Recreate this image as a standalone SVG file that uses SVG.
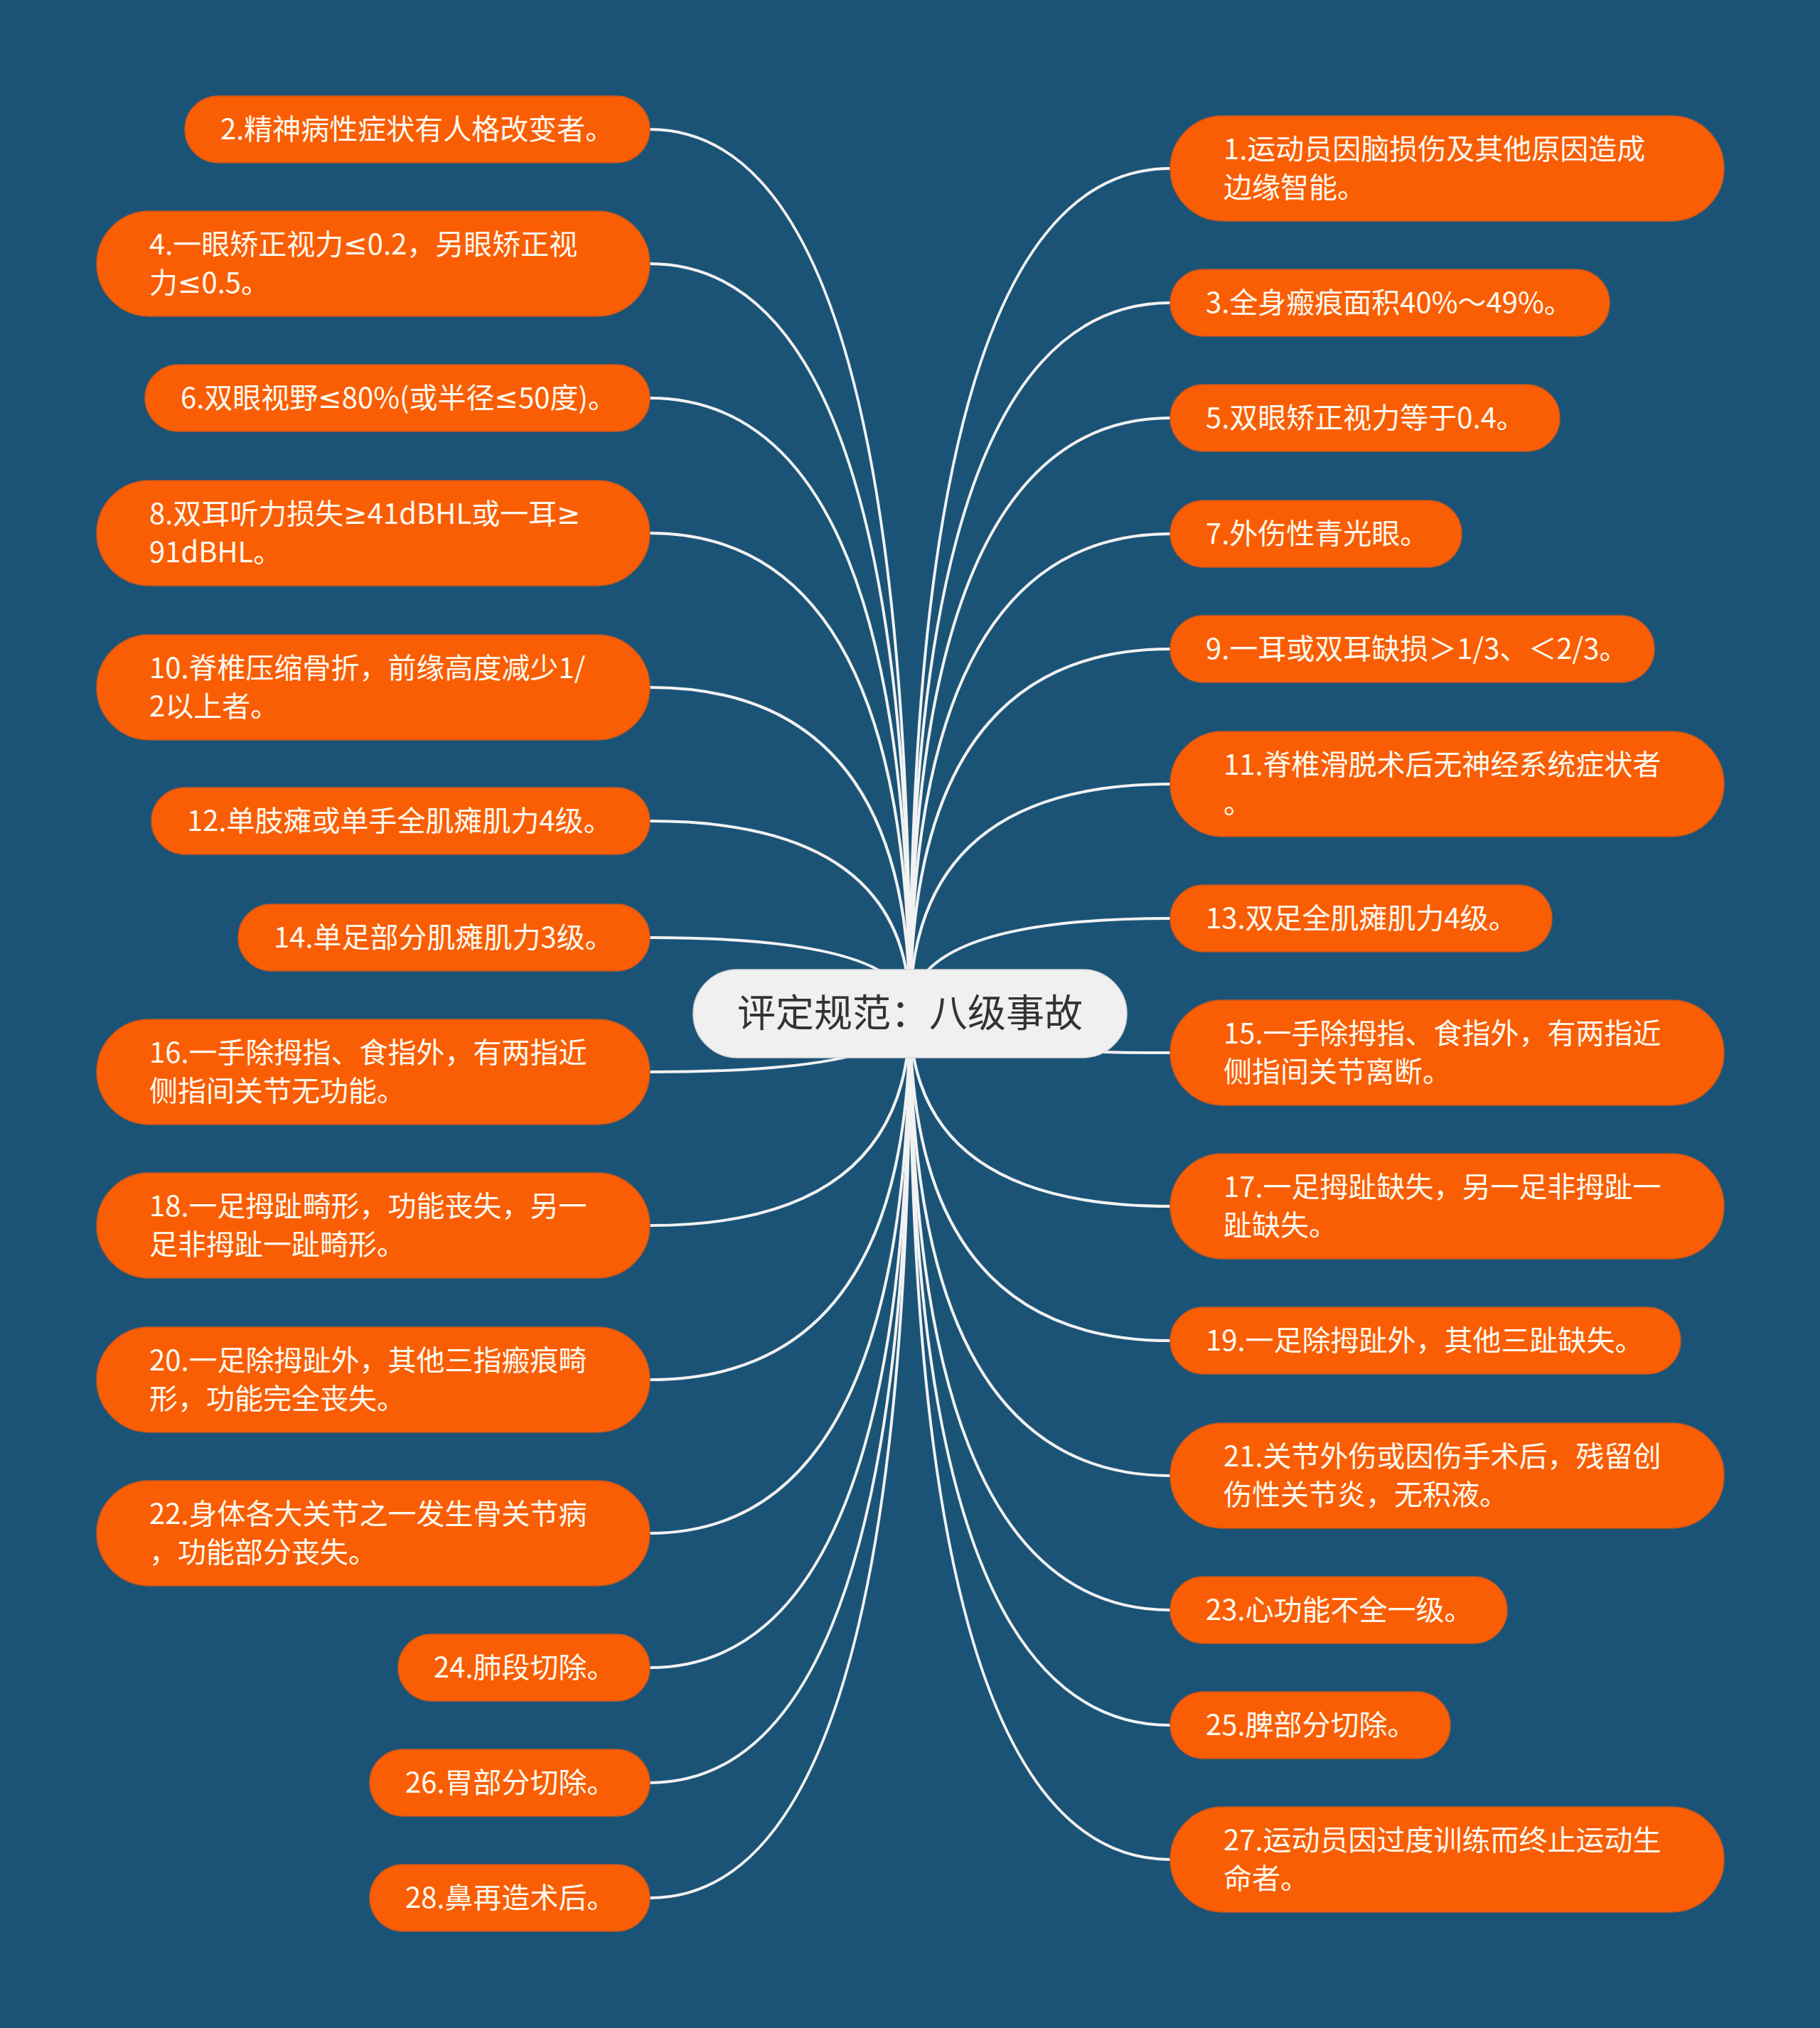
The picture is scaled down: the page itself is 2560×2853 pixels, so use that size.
<svg xmlns="http://www.w3.org/2000/svg" width="2560" height="2853" viewBox="0 0 2560 2853">
<style>
.n rect{fill:#f95e05;stroke:#c4571e;stroke-width:1.5}
.n text{font-family:"Noto Sans CJK SC","Noto Sans",sans-serif;font-size:40px;fill:#fffaf0}
.n tspan.m{font-family:"Noto Sans","DejaVu Sans",sans-serif}
.c{fill:none;stroke:#f2f2f2;stroke-width:4;stroke-linecap:round}
#root rect{fill:#f0f0f0;stroke:#d8d8d8;stroke-width:1.5}
#root text{font-family:"Noto Sans CJK SC","Noto Sans",sans-serif;font-size:54px;fill:#333333;text-anchor:middle}
</style>
<rect x="0" y="0" width="2560" height="2853" fill="#1b5377"/>
<g id="connectors">
<path class="c" d="M1280 1426 Q1280 182 914 182"/>
<path class="c" d="M1280 1426 Q1280 371 914 371"/>
<path class="c" d="M1280 1426 Q1280 560 914 560"/>
<path class="c" d="M1280 1426 Q1280 750 914 750"/>
<path class="c" d="M1280 1426 Q1280 967 914 967"/>
<path class="c" d="M1280 1426 Q1280 1155 914 1155"/>
<path class="c" d="M1280 1426 Q1280 1319 914 1319"/>
<path class="c" d="M1280 1426 Q1280 1508 914 1508"/>
<path class="c" d="M1280 1426 Q1280 1724 914 1724"/>
<path class="c" d="M1280 1426 Q1280 1941 914 1941"/>
<path class="c" d="M1280 1426 Q1280 2157 914 2157"/>
<path class="c" d="M1280 1426 Q1280 2346 914 2346"/>
<path class="c" d="M1280 1426 Q1280 2508 914 2508"/>
<path class="c" d="M1280 1426 Q1280 2670 914 2670"/>
<path class="c" d="M1280 1426 Q1280 237 1646 237"/>
<path class="c" d="M1280 1426 Q1280 426 1646 426"/>
<path class="c" d="M1280 1426 Q1280 588 1646 588"/>
<path class="c" d="M1280 1426 Q1280 751 1646 751"/>
<path class="c" d="M1280 1426 Q1280 913 1646 913"/>
<path class="c" d="M1280 1426 Q1280 1103 1646 1103"/>
<path class="c" d="M1280 1426 Q1280 1292 1646 1292"/>
<path class="c" d="M1280 1426 Q1280 1481 1646 1481"/>
<path class="c" d="M1280 1426 Q1280 1697 1646 1697"/>
<path class="c" d="M1280 1426 Q1280 1886 1646 1886"/>
<path class="c" d="M1280 1426 Q1280 2076 1646 2076"/>
<path class="c" d="M1280 1426 Q1280 2265 1646 2265"/>
<path class="c" d="M1280 1426 Q1280 2427 1646 2427"/>
<path class="c" d="M1280 1426 Q1280 2616 1646 2616"/>
</g>
<g id="root"><rect x="975" y="1364" width="610" height="124" rx="62"/><text x="1280" y="1445">评定规范：八级事故</text></g>
<g id="n2" class="n"><rect x="260" y="135" width="654" height="94" rx="47"/><text x="310" y="196">2.精神病性症状有人格改变者。</text></g>
<g id="n4" class="n"><rect x="136" y="297" width="778" height="148" rx="74"/><text x="210" y="358">4.一眼矫正视力<tspan class="m">≤</tspan>0.2，另眼矫正视</text><text x="210" y="412">力<tspan class="m">≤</tspan>0.5。</text></g>
<g id="n6" class="n"><rect x="204" y="513" width="710" height="94" rx="47"/><text x="254" y="574">6.双眼视野<tspan class="m">≤</tspan>80%(或半径<tspan class="m">≤</tspan>50度)。</text></g>
<g id="n8" class="n"><rect x="136" y="676" width="778" height="148" rx="74"/><text x="210" y="737">8.双耳听力损失<tspan class="m">≥</tspan>41dBHL或一耳<tspan class="m">≥</tspan></text><text x="210" y="791">91dBHL。</text></g>
<g id="n10" class="n"><rect x="136" y="893" width="778" height="148" rx="74"/><text x="210" y="954">10.脊椎压缩骨折，前缘高度减少1/</text><text x="210" y="1008">2以上者。</text></g>
<g id="n12" class="n"><rect x="213" y="1108" width="701" height="94" rx="47"/><text x="263" y="1169">12.单肢瘫或单手全肌瘫肌力4级。</text></g>
<g id="n14" class="n"><rect x="335" y="1272" width="579" height="94" rx="47"/><text x="385" y="1333">14.单足部分肌瘫肌力3级。</text></g>
<g id="n16" class="n"><rect x="136" y="1434" width="778" height="148" rx="74"/><text x="210" y="1495">16.一手除拇指、食指外，有两指近</text><text x="210" y="1549">侧指间关节无功能。</text></g>
<g id="n18" class="n"><rect x="136" y="1650" width="778" height="148" rx="74"/><text x="210" y="1711">18.一足拇趾畸形，功能丧失，另一</text><text x="210" y="1765">足非拇趾一趾畸形。</text></g>
<g id="n20" class="n"><rect x="136" y="1867" width="778" height="148" rx="74"/><text x="210" y="1928">20.一足除拇趾外，其他三指瘢痕畸</text><text x="210" y="1982">形，功能完全丧失。</text></g>
<g id="n22" class="n"><rect x="136" y="2083" width="778" height="148" rx="74"/><text x="210" y="2144">22.身体各大关节之一发生骨关节病</text><text x="210" y="2198">，功能部分丧失。</text></g>
<g id="n24" class="n"><rect x="560" y="2299" width="354" height="94" rx="47"/><text x="610" y="2360">24.肺段切除。</text></g>
<g id="n26" class="n"><rect x="520" y="2461" width="394" height="94" rx="47"/><text x="570" y="2522">26.胃部分切除。</text></g>
<g id="n28" class="n"><rect x="520" y="2623" width="394" height="94" rx="47"/><text x="570" y="2684">28.鼻再造术后。</text></g>
<g id="n1" class="n"><rect x="1646" y="163" width="779" height="148" rx="74"/><text x="1721" y="224">1.运动员因脑损伤及其他原因造成</text><text x="1721" y="278">边缘智能。</text></g>
<g id="n3" class="n"><rect x="1646" y="379" width="618" height="94" rx="47"/><text x="1696" y="440">3.全身瘢痕面积40%～49%。</text></g>
<g id="n5" class="n"><rect x="1646" y="541" width="548" height="94" rx="47"/><text x="1696" y="602">5.双眼矫正视力等于0.4。</text></g>
<g id="n7" class="n"><rect x="1646" y="704" width="410" height="94" rx="47"/><text x="1696" y="765">7.外伤性青光眼。</text></g>
<g id="n9" class="n"><rect x="1646" y="866" width="681" height="94" rx="47"/><text x="1696" y="927">9.一耳或双耳缺损＞1/3、＜2/3。</text></g>
<g id="n11" class="n"><rect x="1646" y="1029" width="779" height="148" rx="74"/><text x="1721" y="1090">11.脊椎滑脱术后无神经系统症状者</text><text x="1721" y="1144">。</text></g>
<g id="n13" class="n"><rect x="1646" y="1245" width="537" height="94" rx="47"/><text x="1696" y="1306">13.双足全肌瘫肌力4级。</text></g>
<g id="n15" class="n"><rect x="1646" y="1407" width="779" height="148" rx="74"/><text x="1721" y="1468">15.一手除拇指、食指外，有两指近</text><text x="1721" y="1522">侧指间关节离断。</text></g>
<g id="n17" class="n"><rect x="1646" y="1623" width="779" height="148" rx="74"/><text x="1721" y="1684">17.一足拇趾缺失，另一足非拇趾一</text><text x="1721" y="1738">趾缺失。</text></g>
<g id="n19" class="n"><rect x="1646" y="1839" width="718" height="94" rx="47"/><text x="1696" y="1900">19.一足除拇趾外，其他三趾缺失。</text></g>
<g id="n21" class="n"><rect x="1646" y="2002" width="779" height="148" rx="74"/><text x="1721" y="2063">21.关节外伤或因伤手术后，残留创</text><text x="1721" y="2117">伤性关节炎，无积液。</text></g>
<g id="n23" class="n"><rect x="1646" y="2218" width="474" height="94" rx="47"/><text x="1696" y="2279">23.心功能不全一级。</text></g>
<g id="n25" class="n"><rect x="1646" y="2380" width="394" height="94" rx="47"/><text x="1696" y="2441">25.脾部分切除。</text></g>
<g id="n27" class="n"><rect x="1646" y="2542" width="779" height="148" rx="74"/><text x="1721" y="2603">27.运动员因过度训练而终止运动生</text><text x="1721" y="2657">命者。</text></g>
</svg>
